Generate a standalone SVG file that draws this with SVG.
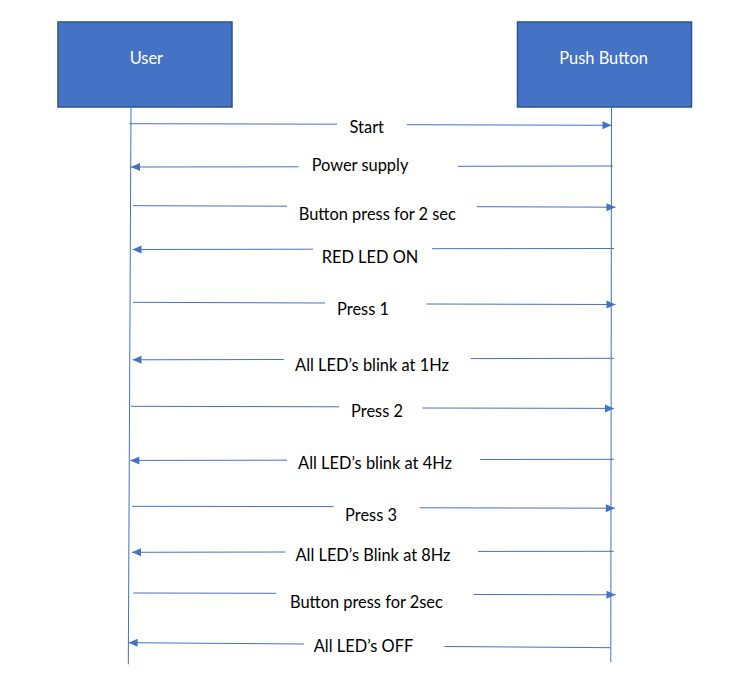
<svg xmlns="http://www.w3.org/2000/svg" width="753" height="697" viewBox="0 0 753 697">
<style>
.box{fill:#4472C4;stroke:#2F528F;stroke-width:1.5}
.life{stroke:#4472C4;stroke-width:1;fill:none}
.msg{stroke:#4472C4;stroke-width:1;fill:none}
.arr{marker-end:url(#ah)}
.lbl{font-family:Lato,"Liberation Sans",sans-serif;font-size:16.4px;fill:#000;text-anchor:middle}
.nlbl{font-family:Lato,"Liberation Sans",sans-serif;font-size:16.4px;fill:#fff;text-anchor:middle}
</style>
<defs>
<marker id="ah" markerUnits="userSpaceOnUse" markerWidth="9" markerHeight="8" refX="9" refY="4" orient="auto" overflow="visible">
<path d="M0,0 L9,4 L0,8 z" fill="#4472C4"/>
</marker>
</defs>
<rect width="753" height="697" fill="#fff"/>
<g id="node-user">
<rect class="box" x="58" y="22" width="174" height="85"/>
<text class="nlbl" x="146.4" y="64">User</text>
<line class="life" x1="131" y1="108" x2="128.3" y2="664.3"/>
</g>
<g id="node-push-button">
<rect class="box" x="517.5" y="22" width="174" height="85"/>
<text class="nlbl" x="603.6" y="64">Push Button</text>
<line class="life" x1="611.5" y1="108" x2="610.8" y2="662.3"/>
</g>
<g id="connectors">
<line class="msg" x1="129.5" y1="123.7" x2="337" y2="124.2"/>
<line class="msg arr" x1="407" y1="124.7" x2="611.5" y2="125.3"/>
<line class="msg" x1="613" y1="166" x2="458" y2="166.3"/>
<line class="msg arr" x1="298.5" y1="166.8" x2="131" y2="167"/>
<line class="msg" x1="133" y1="205.7" x2="287" y2="206.2"/>
<line class="msg arr" x1="477" y1="206.7" x2="615.5" y2="207.2"/>
<line class="msg" x1="614" y1="248.5" x2="432" y2="248.7"/>
<line class="msg arr" x1="313" y1="249.2" x2="132.5" y2="249.5"/>
<line class="msg" x1="133" y1="302.3" x2="325" y2="303"/>
<line class="msg arr" x1="426.5" y1="304" x2="615.5" y2="304.5"/>
<line class="msg" x1="614" y1="358.3" x2="470.7" y2="358.6"/>
<line class="msg arr" x1="283.8" y1="359.5" x2="132.5" y2="359.8"/>
<line class="msg" x1="131" y1="406.3" x2="339" y2="406.8"/>
<line class="msg arr" x1="422.4" y1="408" x2="614" y2="408.4"/>
<line class="msg" x1="613.8" y1="459.3" x2="480.3" y2="459.5"/>
<line class="msg arr" x1="287.2" y1="460.2" x2="130.3" y2="460.4"/>
<line class="msg" x1="132" y1="506.3" x2="333.4" y2="506.6"/>
<line class="msg arr" x1="419.7" y1="507.8" x2="614.8" y2="508.2"/>
<line class="msg" x1="613.8" y1="551.3" x2="478" y2="551.4"/>
<line class="msg arr" x1="285.2" y1="552" x2="132" y2="552.3"/>
<line class="msg" x1="133.4" y1="593" x2="276.2" y2="593.3"/>
<line class="msg arr" x1="473.4" y1="594.5" x2="615.5" y2="594.8"/>
<line class="msg" x1="610.3" y1="647.7" x2="444.5" y2="646.5"/>
<line class="msg arr" x1="304" y1="644" x2="128.6" y2="642.7"/>
<text class="lbl" x="366.8" y="132.5">Start</text>
<text class="lbl" x="360" y="171">Power supply</text>
<text class="lbl" x="377.3" y="220">Button press for 2 sec</text>
<text class="lbl" x="370" y="262.5">RED LED ON</text>
<text class="lbl" x="363" y="315">Press 1</text>
<text class="lbl" x="372" y="371">All LED’s blink at 1Hz</text>
<text class="lbl" x="377" y="417">Press 2</text>
<text class="lbl" x="375" y="469">All LED’s blink at 4Hz</text>
<text class="lbl" x="371" y="521">Press 3</text>
<text class="lbl" x="373" y="561">All LED’s Blink at 8Hz</text>
<text class="lbl" x="366.4" y="608">Button press for 2sec</text>
<text class="lbl" x="363.5" y="652">All LED’s OFF</text>
</g>
</svg>
